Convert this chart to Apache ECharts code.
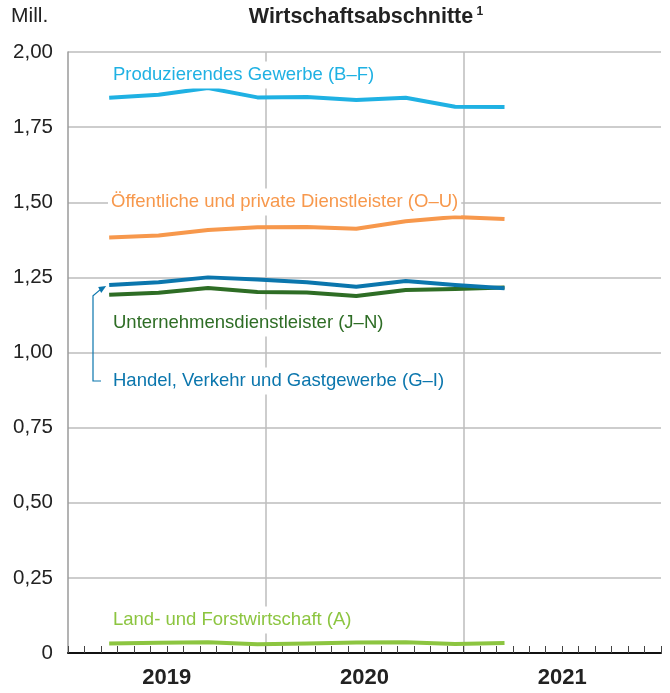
<!DOCTYPE html>
<html>
<head>
<meta charset="utf-8">
<script src="https://cdn.jsdelivr.net/npm/echarts@6/dist/echarts.min.js"></script>
<style>
  html, body { margin: 0; padding: 0; background: #fff; }
  #chart { width: 670px; height: 693px; }
</style>
</head>
<body>
<div id="chart"></div>
<script>
// Quarterly employment by economic section, in millions
const quarters = ['I/2019', 'II/2019', 'III/2019', 'IV/2019', 'I/2020', 'II/2020', 'III/2020', 'IV/2020', 'I/2021'];
const years = ['2019', '2020', '2021'];
const yTicks = [0, 0.25, 0.5, 0.75, 1, 1.25, 1.5, 1.75, 2];

const produzierend = [1.848, 1.858, 1.880, 1.849, 1.850, 1.840, 1.848, 1.818, 1.817];
const oeffentlich = [1.383, 1.389, 1.408, 1.417, 1.418, 1.412, 1.437, 1.451, 1.444];
const handel = [1.225, 1.234, 1.250, 1.243, 1.234, 1.219, 1.238, 1.225, 1.214];
const unternehmen = [1.192, 1.199, 1.215, 1.201, 1.200, 1.188, 1.208, 1.211, 1.216];
const landForst = [0.032, 0.034, 0.036, 0.029, 0.032, 0.035, 0.036, 0.030, 0.033];

const COL = {
  prod: '#1fb1e3',
  oeff: '#f7984c',
  handel: '#0b76ad',
  untern: '#2e6d25',
  land: '#8cc540',
  grid: '#bdbdbd',
  text: '#222222'
};
const FONT = '"Liberation Sans", Arial, Helvetica, sans-serif';
const LABEL_SIZE = 18.5;

// Each quarter is plotted at the middle of its last month on a 36-month axis
function toPoints(values) {
  return values.map((v, i) => [i * 3 + 2.5, v]);
}

function series(name, values, color) {
  return {
    name: name,
    type: 'line',
    xAxisIndex: 0,
    data: toPoints(values),
    symbol: 'none',
    lineStyle: { color: color, width: 4, cap: 'butt', join: 'round' },
    z: 5,
    silent: true
  };
}

const chart = echarts.init(document.getElementById('chart'), null, { renderer: 'canvas' });

const option = {
  animation: false,
  backgroundColor: '#ffffff',
  grid: { left: 68, right: 9, top: 52, bottom: 40, containLabel: false },
  xAxis: [
    {
      // monthly tick marks along the base line
      type: 'value', min: 0, max: 36, interval: 1,
      axisLine: { show: true, lineStyle: { color: '#111', width: 2 } },
      axisTick: { show: true, inside: true, length: 7, lineStyle: { color: '#444', width: 1 } },
      axisLabel: { show: false },
      splitLine: { show: false },
      z: 3
    },
    {
      // year boundaries
      type: 'value', min: 0, max: 36, interval: 12,
      axisLine: { show: false }, axisTick: { show: false }, axisLabel: { show: false },
      splitLine: { show: true, lineStyle: { color: ['rgba(0,0,0,0)', COL.grid, COL.grid, 'rgba(0,0,0,0)'], width: 1.5 } }
    },
    {
      // year labels centred under each year
      type: 'category', data: years, boundaryGap: true, position: 'bottom',
      axisLine: { show: false }, axisTick: { show: false }, splitLine: { show: false },
      axisLabel: { show: true, margin: 14, color: COL.text, fontFamily: FONT, fontSize: 22, fontWeight: 'bold' }
    }
  ],
  yAxis: {
    type: 'value', min: 0, max: 2, interval: 0.25,
    axisLine: { show: true, lineStyle: { color: '#9a9a9a', width: 1.5 } },
    axisTick: { show: false },
    splitLine: { show: true, lineStyle: { color: COL.grid, width: 1.5 } },
    axisLabel: {
      show: true, margin: 15, color: COL.text, fontFamily: FONT, fontSize: 20.5,
      formatter: v => {
        const t = yTicks.find(x => Math.abs(x - v) < 1e-9);
        if (t === undefined) return '';
        return t === 0 ? '0' : t.toFixed(2).replace('.', ',');
      }
    }
  },
  series: [
    series('Produzierendes Gewerbe (B–F)', produzierend, COL.prod),
    series('Öffentliche und private Dienstleister (O–U)', oeffentlich, COL.oeff),
    series('Unternehmensdienstleister (J–N)', unternehmen, COL.untern),
    series('Handel, Verkehr und Gastgewerbe (G–I)', handel, COL.handel),
    series('Land- und Forstwirtschaft (A)', landForst, COL.land)
  ]
};
chart.setOption(option);

// Series labels sit on a white box so the grid lines break around them
function label(text, x, y, color) {
  return {
    type: 'text', x: x, y: y, z: 20, silent: true,
    style: {
      text: text, fill: color, font: LABEL_SIZE + 'px ' + FONT,
      textAlign: 'left', textVerticalAlign: 'middle',
      backgroundColor: '#ffffff', padding: [4, 3, 4, 3]
    }
  };
}

// Arrow from the Handel label up to the start of its line
const tip = chart.convertToPixel({ xAxisIndex: 0, yAxisIndex: 0 }, toPoints(handel)[0]);
const tipX = tip[0] - 3, tipY = tip[1] + 1;
const stemX = 93, labelY = 381;

chart.setOption({
  graphic: [
    {
      type: 'text', left: 11, top: 6, silent: true,
      style: { text: 'Mill.', fill: COL.text, font: '21px ' + FONT }
    },
    {
      type: 'text', x: 366, y: 17, silent: true,
      style: {
        text: '{t|Wirtschaftsabschnitte}{s| 1}',
        textAlign: 'center', textVerticalAlign: 'middle',
        rich: {
          t: { fontFamily: FONT, fontSize: 21.5, fontWeight: 'bold', fill: COL.text },
          s: { fontFamily: FONT, fontSize: 12, fontWeight: 'bold', fill: COL.text, verticalAlign: 'top', padding: [0, 0, 9, 0] }
        }
      }
    },
    label('Produzierendes Gewerbe (B–F)', 110, 75, COL.prod),
    label('Öffentliche und private Dienstleister (O–U)', 108, 202, COL.oeff),
    label('Unternehmensdienstleister (J–N)', 110, 323, COL.untern),
    label('Handel, Verkehr und Gastgewerbe (G–I)', 110, labelY, COL.handel),
    label('Land- und Forstwirtschaft (A)', 110, 620, COL.land),
    {
      type: 'polyline', z: 21, silent: true,
      shape: { points: [[stemX + 8, labelY], [stemX, labelY], [stemX, tipY + 10], [tipX - 5, tipY + 3]] },
      style: { stroke: COL.handel, lineWidth: 1.2, fill: null }
    },
    {
      type: 'polygon', z: 21, silent: true,
      shape: { points: [[tipX, tipY], [tipX - 8, tipY + 1], [tipX - 5, tipY + 7]] },
      style: { fill: COL.handel }
    }
  ]
});
</script>
</body>
</html>
